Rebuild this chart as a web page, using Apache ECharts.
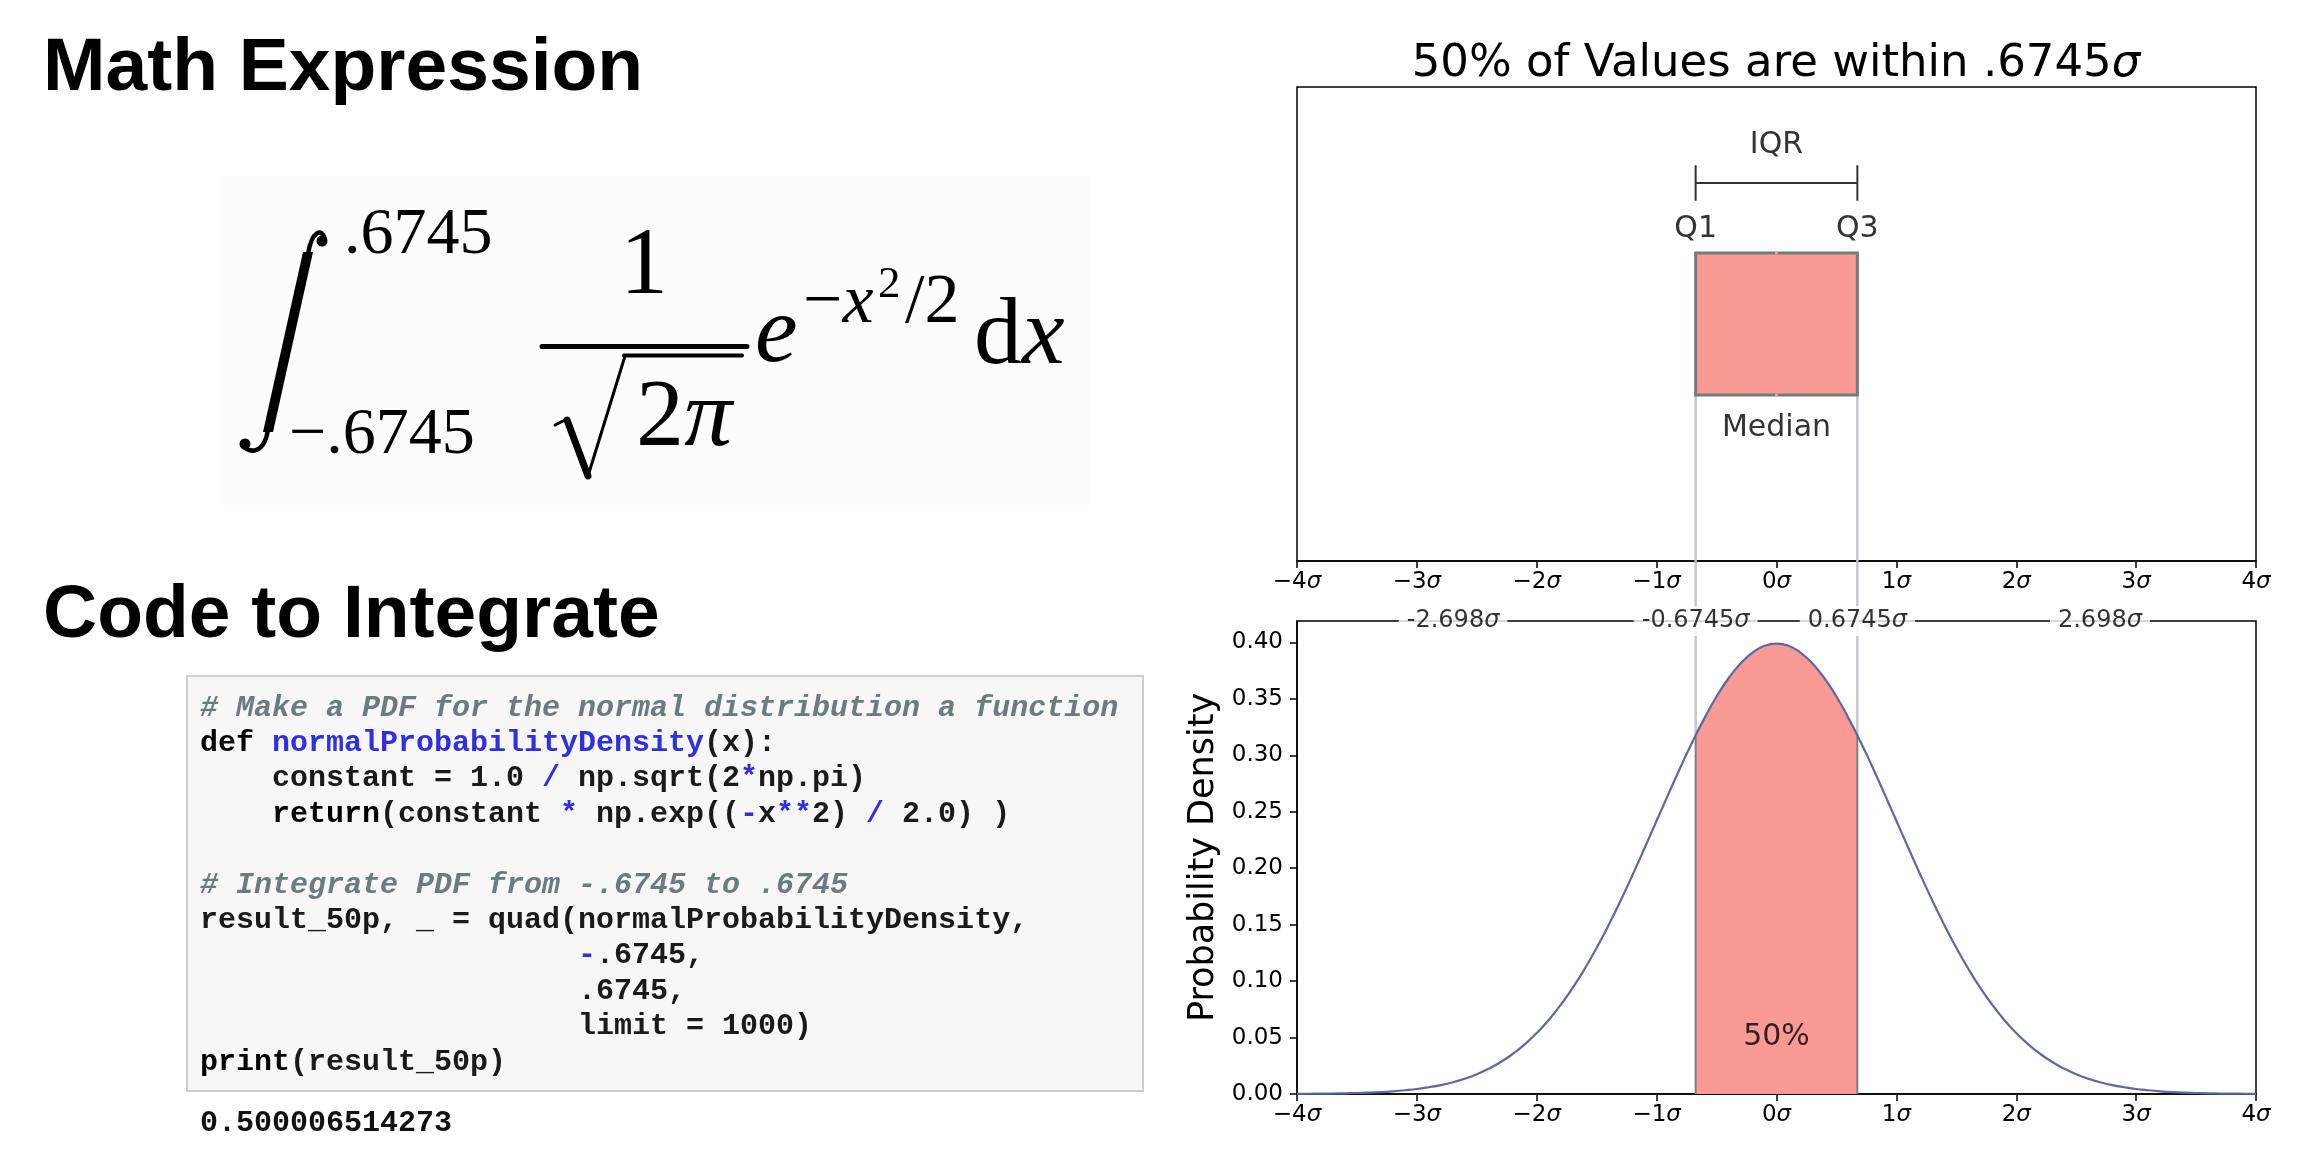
<!DOCTYPE html>
<html>
<head>
<meta charset="utf-8">
<title>50% of values within .6745 sigma</title>
<script src="https://cdn.jsdelivr.net/npm/echarts@6/dist/echarts.min.js"></script>
<style>
  html, body { margin: 0; padding: 0; background: #fff; }
  #main { width: 2297px; height: 1149px; }
</style>
</head>
<body>
<div id="main"></div>
<script>
// ---- data ----
// normal density curve, sampled every tenth of a sigma
const curveX = [
  -4.0, -3.9, -3.8, -3.7, -3.6, -3.5, -3.4, -3.3, -3.2, -3.1,
  -3.0, -2.9, -2.8, -2.7, -2.6, -2.5, -2.4, -2.3, -2.2, -2.1,
  -2.0, -1.9, -1.8, -1.7, -1.6, -1.5, -1.4, -1.3, -1.2, -1.1,
  -1.0, -0.9, -0.8, -0.7, -0.6, -0.5, -0.4, -0.3, -0.2, -0.1,
  0.0, 0.1, 0.2, 0.3, 0.4, 0.5, 0.6, 0.7, 0.8, 0.9,
  1.0, 1.1, 1.2, 1.3, 1.4, 1.5, 1.6, 1.7, 1.8, 1.9,
  2.0, 2.1, 2.2, 2.3, 2.4, 2.5, 2.6, 2.7, 2.8, 2.9,
  3.0, 3.1, 3.2, 3.3, 3.4, 3.5, 3.6, 3.7, 3.8, 3.9, 4.0];
const curveY = [
  0.0001, 0.0002, 0.0003, 0.0004, 0.0006, 0.0009, 0.0012, 0.0017, 0.0024, 0.0033,
  0.0044, 0.0060, 0.0079, 0.0104, 0.0136, 0.0175, 0.0224, 0.0283, 0.0355, 0.0440,
  0.0540, 0.0656, 0.0790, 0.0940, 0.1109, 0.1295, 0.1497, 0.1714, 0.1942, 0.2179,
  0.2420, 0.2661, 0.2897, 0.3123, 0.3332, 0.3521, 0.3683, 0.3814, 0.3910, 0.3970,
  0.3989, 0.3970, 0.3910, 0.3814, 0.3683, 0.3521, 0.3332, 0.3123, 0.2897, 0.2661,
  0.2420, 0.2179, 0.1942, 0.1714, 0.1497, 0.1295, 0.1109, 0.0940, 0.0790, 0.0656,
  0.0540, 0.0440, 0.0355, 0.0283, 0.0224, 0.0175, 0.0136, 0.0104, 0.0079, 0.0060,
  0.0044, 0.0033, 0.0024, 0.0017, 0.0012, 0.0009, 0.0006, 0.0004, 0.0003, 0.0002, 0.0001];
// shaded middle 50%
const shadeX = [-0.6745, -0.6, -0.5, -0.4, -0.3, -0.2, -0.1, 0, 0.1, 0.2, 0.3, 0.4, 0.5, 0.6, 0.6745];
const shadeY = [0.3178, 0.3332, 0.3521, 0.3683, 0.3814, 0.3910, 0.3970, 0.3989, 0.3970, 0.3910, 0.3814, 0.3683, 0.3521, 0.3332, 0.3178];
const quartiles = [-0.6745, 0, 0.6745];        // Q1, median, Q3
const quartileDensity = [0.3178, 0.3178];      // curve height at Q1, Q3
const cutoffs = [-2.698, -0.6745, 0.6745, 2.698];
const cutoffLabels = ['-2.698', '-0.6745', '0.6745', '2.698'];
const shadeLabel = '50%';
const yTicks = [0, 0.05, 0.1, 0.15, 0.2, 0.25, 0.3, 0.35, 0.4];

// code cell text, split into highlight runs
const pad = ' '.repeat(21);
const codeLines = [
  [['c', '# Make a PDF for the normal distribution a function']],
  [['k', 'def'], ['n', ' '], ['f', 'normalProbabilityDensity'], ['n', '(x):']],
  [['n', '    constant = 1.0 '], ['o', '/'], ['n', ' np.sqrt(2'], ['o', '*'], ['n', 'np.pi)']],
  [['k', '    return'], ['n', '(constant '], ['o', '*'], ['n', ' np.exp(('], ['o', '-'], ['n', 'x'], ['o', '**'], ['n', '2) '], ['o', '/'], ['n', ' 2.0) )']],
  [],
  [['c', '# Integrate PDF from -.6745 to .6745']],
  [['n', 'result_50p, _ = quad(normalProbabilityDensity,']],
  [['n', pad], ['o', '-'], ['n', '.6745,']],
  [['n', pad + '.6745,']],
  [['n', pad + 'limit = 1000)']],
  [['k', 'print'], ['n', '(result_50p)']]
];
const codeOutput = '0.500006514273';

// ---- styling ----
const PINK = '#fa9a95';
const CURVE = '#5b69a6';
const GUIDE = '#c4c8cc';
const EDGE = '#7b7f80';
const YMAX = 0.419;
const BOX_Y = 1, BOX_HALF = 0.15;
const FONT = 'DejaVu Sans';
const SERIF = 'Liberation Serif';

function sigmaText(v) {
  const n = v < 0 ? '\u2212' + Math.abs(v) : String(v);
  return '{n|' + n + '}{s|\u03c3}';
}
const sigmaRich = {
  n: { fontSize: 23, fontFamily: FONT, color: '#000' },
  s: { fontSize: 23, fontFamily: FONT, fontStyle: 'italic', color: '#000' }
};
const annot = { fontSize: 30, fontFamily: FONT, color: '#000' };

function sigmaAxis(gridIndex) {
  return {
    type: 'value', gridIndex: gridIndex, min: -4, max: 4, interval: 1,
    axisLine: { onZero: false, lineStyle: { color: '#000', width: 1.5 } },
    axisTick: { length: 7, lineStyle: { color: '#000', width: 1.5 } },
    axisLabel: { margin: 10, formatter: sigmaText, rich: sigmaRich },
    splitLine: { show: false }
  };
}

// vertical guide segments [x, yFrom, yTo]
function vline(params, api, color, width) {
  const a = api.coord([api.value(0), api.value(1)]);
  const b = api.coord([api.value(0), api.value(2)]);
  return { type: 'line', shape: { x1: a[0], y1: a[1], x2: b[0], y2: b[1] }, style: { stroke: color, lineWidth: width } };
}

// ---- left side: headings, formula, code cell ----
const graphics = [];
function txt(x, y, text, style) {
  graphics.push({ type: 'text', x: x, y: y, z: 10, style: Object.assign({ text: text, fill: '#000', align: 'left', verticalAlign: 'middle' }, style) });
}
function seg(x1, y1, x2, y2, w) {
  graphics.push({ type: 'line', z: 10, shape: { x1: x1, y1: y1, x2: x2, y2: y2 }, style: { stroke: '#000', lineWidth: w, lineCap: 'round' } });
}
function serif(size, italic) {
  return { fontSize: size, fontFamily: SERIF, fontStyle: italic ? 'italic' : 'normal', fill: '#000' };
}

txt(43, 69, 'Math Expression', { fontSize: 75, fontWeight: 'bold', fontFamily: 'Liberation Sans' });
txt(43, 616, 'Code to Integrate', { fontSize: 75, fontWeight: 'bold', fontFamily: 'Liberation Sans' });

// formula backdrop
graphics.push({ type: 'rect', z: 1, shape: { x: 220, y: 176, width: 871, height: 329 }, style: { fill: '#fcfcfc' } });
// integral sign
graphics.push({ type: 'polygon', z: 10, shape: { points: [[303, 252], [313, 252], [273, 432], [263, 432]] }, style: { fill: '#000' } });
graphics.push({ type: 'bezierCurve', z: 10, shape: { x1: 308, y1: 254, cpx1: 312, cpy1: 230, cpx2: 322, cpy2: 228, x2: 325, y2: 239 }, style: { stroke: '#000', lineWidth: 4.5, fill: null } });
graphics.push({ type: 'bezierCurve', z: 10, shape: { x1: 268, y1: 430, cpx1: 264, cpy1: 454, cpx2: 250, cpy2: 454, x2: 242, y2: 445 }, style: { stroke: '#000', lineWidth: 4.5, fill: null } });
graphics.push({ type: 'circle', z: 10, shape: { cx: 322, cy: 241, r: 5.5 }, style: { fill: '#000' } });
graphics.push({ type: 'circle', z: 10, shape: { cx: 245, cy: 444, r: 5.5 }, style: { fill: '#000' } });
txt(344, 236, '.6745', serif(66));
txt(289, 436, '\u2212.6745', serif(66));
// fraction
txt(644, 268, '1', Object.assign(serif(96), { align: 'center' }));
seg(542, 346.5, 747, 346.5, 5);
seg(555, 425, 567, 419, 3);
seg(567, 420, 588, 476, 7);
seg(588, 476, 625, 356, 3);
seg(624, 355.5, 742, 355.5, 4);
graphics.push({ type: 'text', x: 636, y: 420, z: 10, style: { text: '{r|2}{i|\u03c0}', align: 'left', verticalAlign: 'middle',
  rich: { r: serif(96), i: serif(96, true) } } });
txt(755, 336, 'e', serif(96, true));
graphics.push({ type: 'text', x: 803, y: 304, z: 10, style: { text: '{r|\u2212}{i|x}', align: 'left', verticalAlign: 'middle',
  rich: { r: serif(70), i: serif(70, true) } } });
txt(878, 285, '2', serif(45));
txt(905, 304, '/2', serif(70));
graphics.push({ type: 'text', x: 974, y: 338, z: 10, style: { text: '{r|d}{i|x}', align: 'left', verticalAlign: 'middle',
  rich: { r: serif(96), i: serif(96, true) } } });

// code cell
graphics.push({ type: 'rect', z: 1, shape: { x: 187, y: 676, width: 956, height: 415 }, style: { fill: '#f7f7f7', stroke: '#cfcfcf', lineWidth: 2 } });
const codeFont = { fontSize: 30, fontFamily: 'Liberation Mono', fontWeight: 'bold' };
const codeRich = {
  c: Object.assign({ fill: '#6b7c80', fontStyle: 'italic' }, codeFont),
  k: Object.assign({ fill: '#000' }, codeFont),
  f: Object.assign({ fill: '#2f2fe8' }, codeFont),
  o: Object.assign({ fill: '#2f2fe8' }, codeFont),
  n: Object.assign({ fill: '#1a1a1a' }, codeFont)
};
codeLines.forEach(function (runs, i) {
  if (!runs.length) return;
  const text = runs.map(function (r) { return '{' + r[0] + '|' + r[1] + '}'; }).join('');
  graphics.push({ type: 'text', x: 200, y: 708 + i * 35.4, z: 10, style: { text: text, align: 'left', verticalAlign: 'middle', rich: codeRich } });
});
txt(200, 1123, codeOutput, Object.assign({ fill: '#111' }, codeFont));

// chart title
graphics.push({ type: 'text', x: 1776, y: 64, z: 10, style: { text: '{a|50% of Values are within .6745}{s|\u03c3}', align: 'center', verticalAlign: 'middle',
  rich: { a: { fontSize: 45, fontFamily: FONT, fill: '#000' }, s: { fontSize: 45, fontFamily: FONT, fontStyle: 'italic', fill: '#000' } } } });

// ---- charts ----
const chart = echarts.init(document.getElementById('main'));
const hidden = { color: 'transparent' };
const option = {
  backgroundColor: '#fff',
  animation: false,
  graphic: graphics,
  grid: [
    { left: 1297, top: 87, width: 959, height: 474, show: true, borderColor: '#000', borderWidth: 1.5, outerBoundsMode: 'none' },
    { left: 1297, top: 621, width: 959, height: 473, show: true, borderColor: '#000', borderWidth: 1.5, outerBoundsMode: 'none' }
  ],
  xAxis: [sigmaAxis(0), sigmaAxis(1)],
  yAxis: [
    { type: 'value', gridIndex: 0, min: 0.5, max: 1.5, show: false },
    {
      type: 'value', gridIndex: 1, min: 0, max: YMAX, interval: 0.05,
      name: 'Probability Density', nameLocation: 'middle', nameGap: 76, nameRotate: 90,
      nameTextStyle: { fontSize: 35, fontFamily: FONT, color: '#000' },
      axisLine: { show: true, onZero: false, lineStyle: { color: '#000', width: 1.5 } },
      axisTick: { show: true, length: 7, lineStyle: { color: '#000', width: 1.5 } },
      axisLabel: { margin: 14, showMaxLabel: false, fontSize: 23, fontFamily: FONT, color: '#000',
        formatter: function (v) { return yTicks.indexOf(Math.round(v * 100) / 100) >= 0 ? v.toFixed(2) : ''; } },
      splitLine: { show: false }
    }
  ],
  series: [
    // top panel: guides from the box down to the lower panel
    {
      type: 'custom', xAxisIndex: 0, yAxisIndex: 0, z: 2, clip: false,
      data: [[quartiles[0], BOX_Y - BOX_HALF, 0.5], [quartiles[2], BOX_Y - BOX_HALF, 0.5]],
      renderItem: function (p, api) { return vline(p, api, GUIDE, 2.5); }
    },
    // IQR box, median only shows as a notch in the border
    {
      type: 'custom', xAxisIndex: 0, yAxisIndex: 0, z: 3,
      data: [[quartiles[0], quartiles[1], quartiles[2], BOX_Y]],
      renderItem: function (params, api) {
        const y = api.value(3);
        const a = api.coord([api.value(0), y + BOX_HALF]);
        const b = api.coord([api.value(2), y - BOX_HALF]);
        const m1 = api.coord([api.value(1), y + BOX_HALF]);
        const m2 = api.coord([api.value(1), y - BOX_HALF]);
        return { type: 'group', children: [
          { type: 'rect', shape: { x: a[0], y: a[1], width: b[0] - a[0], height: b[1] - a[1] }, style: { fill: PINK, stroke: '#6f7d7d', lineWidth: 3 } },
          { type: 'line', shape: { x1: m1[0], y1: m1[1] - 1.5, x2: m1[0], y2: m1[1] + 1.5 }, style: { stroke: PINK, lineWidth: 3 } },
          { type: 'line', shape: { x1: m2[0], y1: m2[1] - 1.5, x2: m2[0], y2: m2[1] + 1.5 }, style: { stroke: PINK, lineWidth: 3 } }
        ] };
      }
    },
    // IQR bracket
    {
      type: 'line', xAxisIndex: 0, yAxisIndex: 0, z: 3, symbol: 'none', silent: true,
      lineStyle: { color: '#333', width: 2 },
      data: [[quartiles[0], 1.335], [quartiles[0], 1.26], [quartiles[0], 1.2975], [quartiles[2], 1.2975], [quartiles[2], 1.335], [quartiles[2], 1.26]]
    },
    // top panel labels
    {
      type: 'scatter', xAxisIndex: 0, yAxisIndex: 0, z: 4, symbolSize: 1, itemStyle: hidden,
      label: Object.assign({ show: true, position: 'inside', formatter: function (p) { return p.data[2]; } }, annot),
      data: [[quartiles[1], 1.378, 'IQR'], [quartiles[0], 1.2, 'Q1'], [quartiles[2], 1.2, 'Q3'], [quartiles[1], 0.78, 'Median']]
    },
    // lower panel: shaded 50% region
    {
      type: 'line', xAxisIndex: 1, yAxisIndex: 1, z: 2, symbol: 'none', smooth: true,
      lineStyle: { width: 0 }, areaStyle: { color: PINK, opacity: 1 },
      data: shadeX.map(function (x, i) { return [x, shadeY[i]]; })
    },
    // density curve
    {
      type: 'line', xAxisIndex: 1, yAxisIndex: 1, z: 5, symbol: 'none', smooth: true,
      lineStyle: { color: CURVE, width: 2.2 },
      data: curveX.map(function (x, i) { return [x, curveY[i]]; })
    },
    // edges of shaded region
    {
      type: 'custom', xAxisIndex: 1, yAxisIndex: 1, z: 3,
      data: [[quartiles[0], 0, quartileDensity[0]], [quartiles[2], 0, quartileDensity[1]]],
      renderItem: function (p, api) { return vline(p, api, EDGE, 2); }
    },
    // guides above the curve, running up into the top panel
    {
      type: 'custom', xAxisIndex: 1, yAxisIndex: 1, z: 3, clip: false,
      data: [[quartiles[0], quartileDensity[0], 0.472], [quartiles[2], quartileDensity[1], 0.472]],
      renderItem: function (p, api) { return vline(p, api, GUIDE, 2.5); }
    },
    // cutoff labels on the top spine
    {
      type: 'scatter', xAxisIndex: 1, yAxisIndex: 1, z: 10, clip: false, symbolSize: 1, itemStyle: hidden,
      label: {
        show: true, position: 'inside', backgroundColor: '#fff', padding: [3, 8],
        formatter: function (p) { return '{n|' + p.data[2] + '}{s|\u03c3}'; },
        rich: { n: { fontSize: 24, fontFamily: FONT, color: '#000' }, s: { fontSize: 24, fontFamily: FONT, fontStyle: 'italic', color: '#000' } }
      },
      data: cutoffs.map(function (c, i) { return [c, YMAX, cutoffLabels[i]]; })
    },
    // percentage inside the shaded area
    {
      type: 'scatter', xAxisIndex: 1, yAxisIndex: 1, z: 10, symbolSize: 1, itemStyle: hidden,
      label: Object.assign({ show: true, position: 'inside', formatter: shadeLabel }, annot),
      data: [[quartiles[1], 0.05]]
    }
  ]
};
chart.setOption(option);
</script>
</body>
</html>
